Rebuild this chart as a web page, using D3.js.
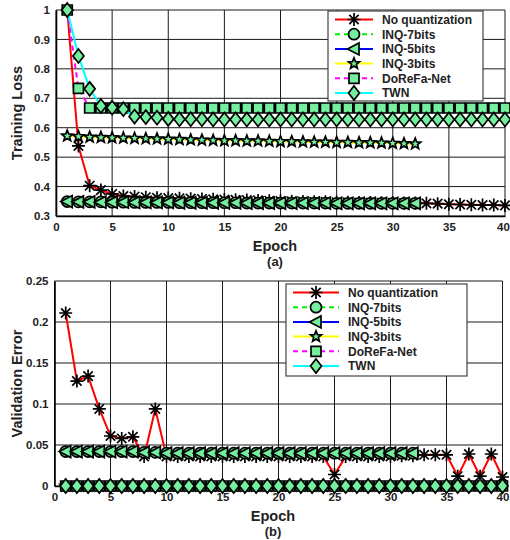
<!DOCTYPE html>
<html>
<head>
<meta charset="utf-8">
<script src="https://cdn.jsdelivr.net/npm/d3@7"></script>
<style>
body { margin: 0; background: #fff; }
text { font-family: "Liberation Sans", Arial, sans-serif; font-weight: bold; fill: #222; }
</style>
</head>
<body>
<svg width="510" height="540"></svg>
<script>
// legend names
const seriesNames = ["No quantization", "INQ-7bits", "INQ-5bits", "INQ-3bits", "DoReFa-Net", "TWN"];

// (a) training loss, epochs 1..40 (INQ runs stop at 32)
const lossNoQuant = [1.0, 0.538, 0.403, 0.388, 0.375, 0.368, 0.366, 0.364, 0.362, 0.361,
  0.360, 0.359, 0.358, 0.357, 0.356, 0.355, 0.354, 0.353, 0.352, 0.351,
  0.350, 0.349, 0.348, 0.348, 0.347, 0.347, 0.346, 0.346, 0.345, 0.345,
  0.344, 0.344, 0.343, 0.342, 0.340, 0.339, 0.338, 0.337, 0.337, 0.336];
const lossInq7 = [0.349, 0.348, 0.348, 0.348, 0.347, 0.347, 0.346, 0.346, 0.346, 0.346,
  0.345, 0.345, 0.345, 0.345, 0.345, 0.345, 0.344, 0.344, 0.344, 0.344,
  0.344, 0.344, 0.344, 0.344, 0.343, 0.343, 0.343, 0.343, 0.343, 0.343, 0.343, 0.343];
const lossInq5 = [0.349, 0.348, 0.348, 0.347, 0.347, 0.347, 0.346, 0.346, 0.346, 0.346,
  0.345, 0.345, 0.345, 0.345, 0.345, 0.345, 0.344, 0.344, 0.344, 0.344,
  0.344, 0.344, 0.344, 0.344, 0.343, 0.343, 0.343, 0.343, 0.343, 0.343, 0.343, 0.343];
const lossInq3 = [0.572, 0.570, 0.568, 0.567, 0.566, 0.565, 0.564, 0.563, 0.562, 0.561,
  0.560, 0.559, 0.558, 0.557, 0.556, 0.556, 0.555, 0.555, 0.554, 0.553,
  0.553, 0.552, 0.551, 0.551, 0.550, 0.550, 0.549, 0.549, 0.548, 0.547, 0.546, 0.545];
const lossDorefa = [1.0, 0.734, 0.667, 0.667, 0.667, 0.667, 0.667, 0.667, 0.667, 0.667,
  0.667, 0.667, 0.667, 0.667, 0.667, 0.667, 0.667, 0.667, 0.667, 0.667,
  0.667, 0.667, 0.667, 0.667, 0.667, 0.667, 0.667, 0.667, 0.667, 0.667,
  0.667, 0.667, 0.667, 0.667, 0.667, 0.667, 0.667, 0.667, 0.667, 0.667];
const lossTwn = [1.0, 0.844, 0.732, 0.674, 0.668, 0.663, 0.638, 0.636, 0.634, 0.630,
  0.629, 0.629, 0.629, 0.628, 0.628, 0.628, 0.628, 0.628, 0.628, 0.628,
  0.628, 0.628, 0.628, 0.628, 0.628, 0.628, 0.628, 0.628, 0.628, 0.628,
  0.628, 0.628, 0.628, 0.628, 0.628, 0.628, 0.628, 0.628, 0.628, 0.628];

// (b) validation error
const errNoQuant = [0.211, 0.128, 0.134, 0.094, 0.061, 0.058, 0.060, 0.036, 0.094, 0.036,
  0.036, 0.036, 0.036, 0.036, 0.036, 0.036, 0.036, 0.036, 0.036, 0.036,
  0.036, 0.036, 0.036, 0.036, 0.014, 0.036, 0.036, 0.036, 0.036, 0.036,
  0.037, 0.037, 0.038, 0.038, 0.038, 0.012, 0.039, 0.012, 0.039, 0.011];
const errInq7 = [0.042, 0.042, 0.042, 0.042, 0.042, 0.042, 0.042, 0.041, 0.041, 0.040,
  0.040, 0.040, 0.040, 0.040, 0.040, 0.040, 0.040, 0.040, 0.040, 0.040,
  0.040, 0.040, 0.040, 0.040, 0.040, 0.040, 0.040, 0.040, 0.040, 0.040, 0.040, 0.040];
const errInq5 = [0.042, 0.042, 0.042, 0.042, 0.042, 0.042, 0.042, 0.041, 0.041, 0.040,
  0.040, 0.040, 0.040, 0.040, 0.040, 0.040, 0.040, 0.040, 0.040, 0.040,
  0.040, 0.040, 0.040, 0.040, 0.040, 0.040, 0.040, 0.040, 0.040, 0.040, 0.040, 0.040];
const errInq3 = [0, 0, 0, 0, 0, 0, 0, 0, 0, 0, 0, 0, 0, 0, 0, 0,
  0, 0, 0, 0, 0, 0, 0, 0, 0, 0, 0, 0, 0, 0, 0, 0];
const errDorefa = [0, 0, 0, 0, 0, 0, 0, 0, 0, 0, 0, 0, 0, 0, 0, 0, 0, 0, 0, 0,
  0, 0, 0, 0, 0, 0, 0, 0, 0, 0, 0, 0, 0, 0, 0, 0, 0, 0, 0, 0];
const errTwn = [0, 0, 0, 0, 0, 0, 0, 0, 0, 0, 0, 0, 0, 0, 0, 0, 0, 0, 0, 0,
  0, 0, 0, 0, 0, 0, 0, 0, 0, 0, 0, 0, 0, 0, 0, 0, 0, 0, 0, 0];

const xTicks = [0, 5, 10, 15, 20, 25, 30, 35, 40];
const lossTicks = [0.3, 0.4, 0.5, 0.6, 0.7, 0.8, 0.9, 1];
const errTicks = [0, 0.05, 0.1, 0.15, 0.2, 0.25];

const lineColors = ["#ff0000", "#00ee00", "#0000ff", "#ffff00", "#ff00ff", "#00ffff"];
const dashes = [null, "5,4", null, null, "5,4", null];
const markers = ["asterisk", "circle", "triangle", "star", "square", "diamond"];
const fillGreen = "#74ee9f";

let svg = d3.select("svg");

// marker paths centred on 0,0
function markerPath(kind) {
  if (kind == "asterisk") {
    let r = 6.5, d = r * 0.72;
    return `M${-r},0L${r},0M0,${-r}L0,${r}M${-d},${-d}L${d},${d}M${-d},${d}L${d},${-d}`;
  }
  if (kind == "circle") return "M5.5,0A5.5,5.5 0 1,1 -5.5,0A5.5,5.5 0 1,1 5.5,0Z";
  if (kind == "triangle") return "M-6.5,0L5,-6L5,6Z";
  if (kind == "square") return "M-5,-5L5,-5L5,5L-5,5Z";
  if (kind == "diamond") return "M0,-7L5.5,0L0,7L-5.5,0Z";
  if (kind == "star") {
    let p = [];
    for (let i = 0; i < 10; i++) {
      let a = -Math.PI / 2 + i * Math.PI / 5;
      let rr = i % 2 == 0 ? 5.8 : 2.5;
      p.push([rr * Math.cos(a), rr * Math.sin(a)]);
    }
    return "M" + p.map(q => q.join(",")).join("L") + "Z";
  }
}

function drawMarker(g, kind, x, y) {
  g.append("path")
    .attr("d", markerPath(kind))
    .attr("transform", `translate(${x},${y})`)
    .attr("fill", kind == "asterisk" ? "none" : fillGreen)
    .attr("stroke", "#000")
    .attr("stroke-width", kind == "asterisk" ? 1.7 : 1.7);
}

function drawPanel(p) {
  let x = d3.scaleLinear().domain([0, 40]).range([p.left, p.right]);
  let y = d3.scaleLinear().domain(p.yDomain).range([p.bottom, p.top]);
  let g = svg.append("g");

  // grid
  g.selectAll(".vg").data(xTicks).join("line")
    .attr("x1", d => x(d)).attr("x2", d => x(d))
    .attr("y1", p.top).attr("y2", p.bottom)
    .attr("stroke", "#1a1a1a").attr("stroke-width", 1);
  g.selectAll(".hg").data(p.yTicks).join("line")
    .attr("x1", p.left).attr("x2", p.right)
    .attr("y1", d => y(d)).attr("y2", d => y(d))
    .attr("stroke", "#1a1a1a").attr("stroke-width", 1);

  // axes
  let xAxis = g.append("g").attr("transform", `translate(0,${p.bottom})`)
    .call(d3.axisBottom(x).tickValues(xTicks).tickSize(0).tickPadding(7));
  let yAxis = g.append("g").attr("transform", `translate(${p.left},0)`)
    .call(d3.axisLeft(y).tickValues(p.yTicks).tickSize(0).tickPadding(6).tickFormat(d3.format("")));
  [xAxis, yAxis].forEach(a => {
    a.select(".domain").attr("stroke", "#000").attr("stroke-width", 1.6);
    a.selectAll("text").style("font-size", "11.5px").attr("fill", "#222");
  });
  // last x label sits at the window edge
  xAxis.selectAll("text").filter(d => d == 40).attr("dx", p.lastDx);

  // series
  p.series.forEach((vals, i) => {
    let pts = vals.map((v, j) => [x(j + 1), y(v)]);
    g.append("path")
      .attr("d", d3.line()(pts))
      .attr("fill", "none")
      .attr("stroke", lineColors[i])
      .attr("stroke-width", 2)
      .attr("stroke-dasharray", dashes[i]);
    pts.forEach(q => drawMarker(g, markers[i], q[0], q[1]));
  });

  // labels
  g.append("text")
    .attr("transform", `translate(${p.yLabelX},${(p.top + p.bottom) / 2}) rotate(-90)`)
    .attr("text-anchor", "middle")
    .style("font-size", "14.5px")
    .text(p.yLabel);
  g.append("text")
    .attr("x", p.labelCx).attr("y", p.bottom + 35)
    .attr("text-anchor", "middle").style("font-size", "14.5px")
    .text("Epoch");
  g.append("text")
    .attr("x", p.labelCx).attr("y", p.bottom + 50)
    .attr("text-anchor", "middle").style("font-size", "13px")
    .text(p.caption);

  // legend
  let L = p.legend;
  g.append("rect")
    .attr("x", L.x).attr("y", L.y).attr("width", L.w).attr("height", L.h)
    .attr("fill", "#fff").attr("stroke", "#444").attr("stroke-width", 1.2);
  seriesNames.forEach((name, i) => {
    let yy = L.y + 8.5 + i * 14.7;
    g.append("line")
      .attr("x1", L.lineX0).attr("x2", L.lineX1).attr("y1", yy).attr("y2", yy)
      .attr("stroke", lineColors[i]).attr("stroke-width", 2)
      .attr("stroke-dasharray", dashes[i]);
    drawMarker(g, markers[i], (L.lineX0 + L.lineX1) / 2, yy);
    g.append("text")
      .attr("x", L.textX).attr("y", yy + 4.3)
      .style("font-size", "12px")
      .text(name);
  });
}

drawPanel({
  left: 56, right: 505, top: 10, bottom: 216, lastDx: -2,
  yDomain: [0.3, 1], yTicks: lossTicks, yLabel: "Training Loss", yLabelX: 22,
  labelCx: 275, caption: "(a)",
  series: [lossNoQuant, lossInq7, lossInq5, lossInq3, lossDorefa, lossTwn],
  legend: { x: 328, y: 11, w: 155, h: 90, lineX0: 335, lineX1: 373, textX: 382 }
});

drawPanel({
  left: 54.5, right: 502.5, top: 281, bottom: 486, lastDx: 0,
  yDomain: [0, 0.25], yTicks: errTicks, yLabel: "Validation Error", yLabelX: 22,
  labelCx: 273, caption: "(b)",
  series: [errNoQuant, errInq7, errInq5, errInq3, errDorefa, errTwn],
  legend: { x: 286, y: 284, w: 181, h: 92, lineX0: 293, lineX1: 339, textX: 348 }
});
</script>
</body>
</html>
